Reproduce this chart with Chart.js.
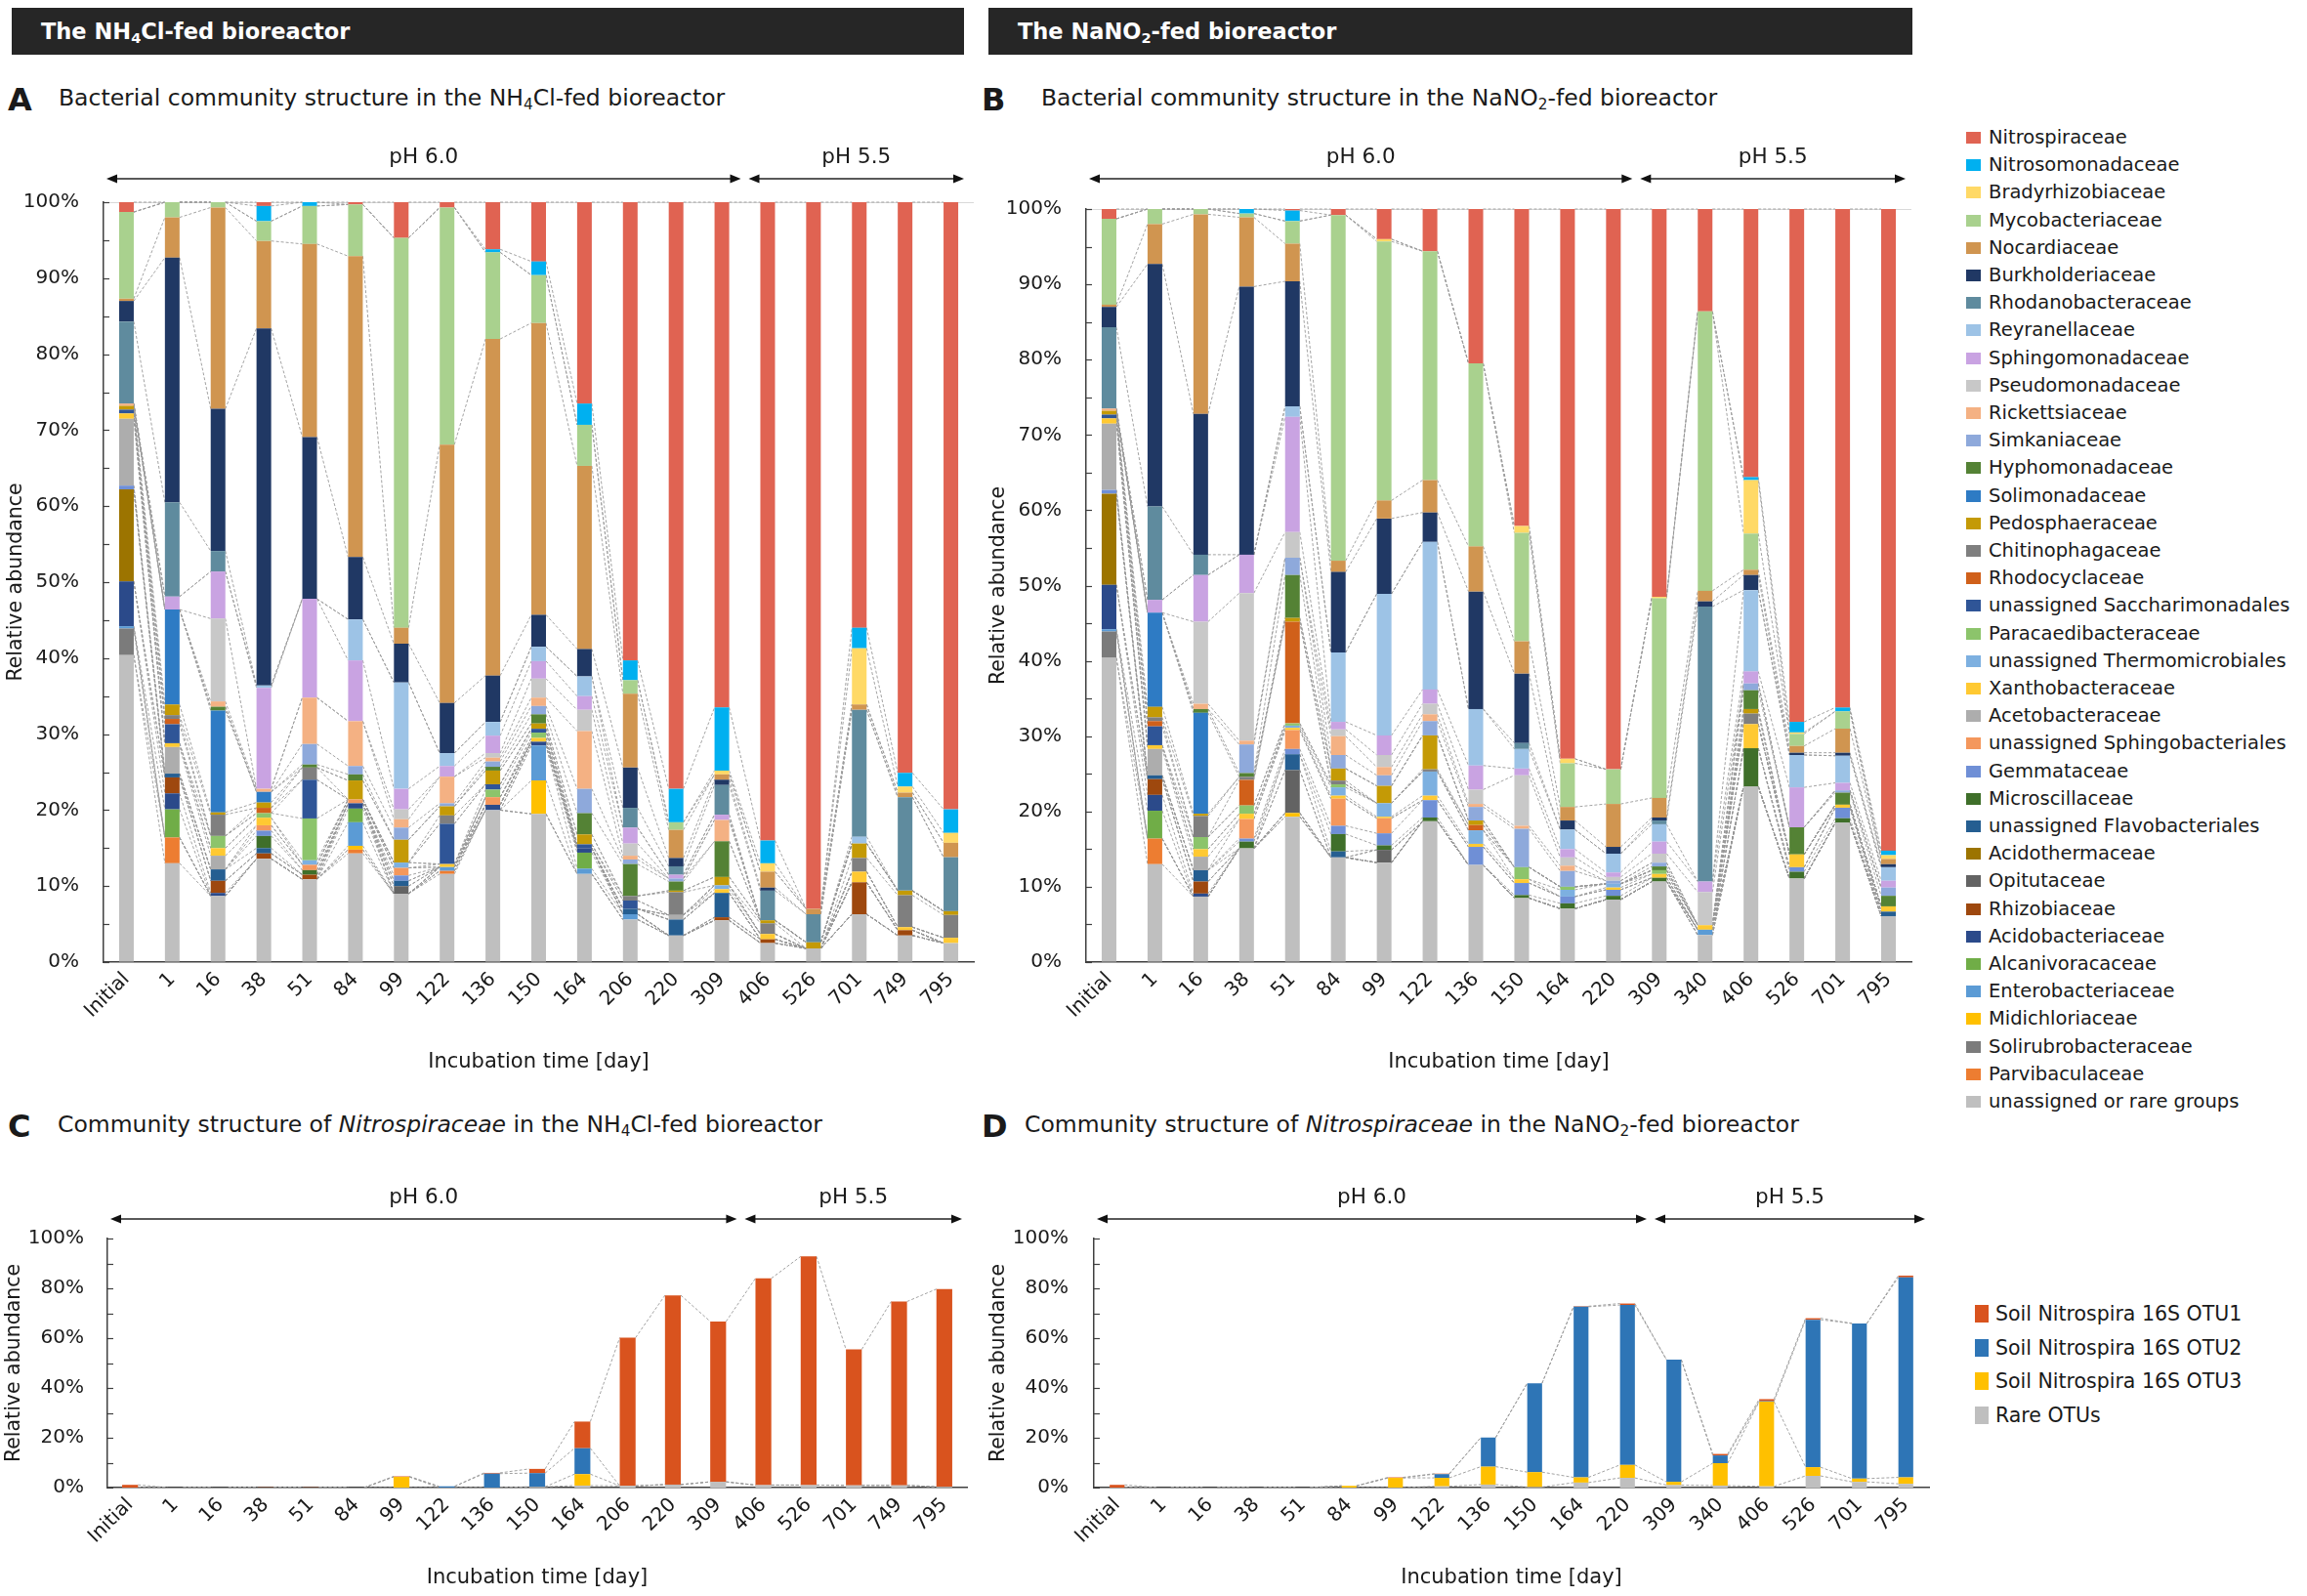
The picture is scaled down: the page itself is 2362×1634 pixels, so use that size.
<!DOCTYPE html>
<html><head><meta charset="utf-8">
<script src="https://cdn.jsdelivr.net/npm/chart.js@4.4.1/dist/chart.umd.min.js"></script>
<style>
body{margin:0;background:#fff;width:2362px;height:1634px;position:relative;overflow:hidden;font-family:"DejaVu Sans",sans-serif;color:#1a1a1a}
.hdr{position:absolute;top:8px;height:48px;background:#262626;color:#fff;font-weight:bold;font-size:22.5px;line-height:48px;padding-left:30px;box-sizing:border-box}
.hdr sub,.ttl sub{font-size:0.65em;vertical-align:-0.25em;line-height:0}
.lab{position:absolute;font-weight:bold;font-size:32px;line-height:1}
.ttl{position:absolute;font-size:23.5px;line-height:1;white-space:nowrap}
canvas{position:absolute}
.leg{position:absolute;font-size:19.5px;white-space:nowrap}
.leg .it{position:absolute;left:0;height:28px;line-height:28px}
.leg .sw{position:absolute;left:0;top:8px;width:15px;height:12px}
.leg .tx{position:absolute;left:23px;top:0}
.leg2{position:absolute;font-size:20.5px;white-space:nowrap}
.leg2 .it{position:absolute;left:0;height:34px;line-height:34px}
.leg2 .sw{position:absolute;left:0;top:8px;width:14px;height:18px}
.leg2 .tx{position:absolute;left:21px;top:0}
</style></head>
<body>
<div class="hdr" style="left:12px;width:975px">The NH<sub>4</sub>Cl-fed bioreactor</div>
<div class="hdr" style="left:1012px;width:946px">The NaNO<sub>2</sub>-fed bioreactor</div>
<div class="lab" style="left:8px;top:86px">A</div>
<div class="ttl" style="left:60px;top:89px">Bacterial community structure in the NH<sub>4</sub>Cl-fed bioreactor</div>
<div class="lab" style="left:1005px;top:86px">B</div>
<div class="ttl" style="left:1066px;top:89px">Bacterial community structure in the NaNO<sub>2</sub>-fed bioreactor</div>
<div class="lab" style="left:8px;top:1137px">C</div>
<div class="ttl" style="left:59px;top:1140px">Community structure of <i>Nitrospiraceae</i> in the NH<sub>4</sub>Cl-fed bioreactor</div>
<div class="lab" style="left:1005px;top:1137px">D</div>
<div class="ttl" style="left:1049px;top:1140px">Community structure of <i>Nitrospiraceae</i> in the NaNO<sub>2</sub>-fed bioreactor</div>
<canvas id="cA" width="1010" height="960" style="left:0;top:140px"></canvas>
<canvas id="cB" width="975" height="960" style="left:1000px;top:140px"></canvas>
<canvas id="cC" width="1010" height="444" style="left:0;top:1190px"></canvas>
<canvas id="cD" width="1000" height="444" style="left:1000px;top:1190px"></canvas>
<div class="leg" id="legAB" style="left:2013px;top:127px"></div>
<div class="leg2" id="legCD" style="left:2022px;top:1328px"></div>
<script>
// ---------- categories ----------
const daysA = ['Initial','1','16','38','51','84','99','122','136','150','164','206','220','309','406','526','701','749','795'];
const daysB = ['Initial','1','16','38','51','84','99','122','136','150','164','220','309','340','406','526','701','795'];

// ---------- families (legend order, top of stack first) ----------
const familyNames = ['Nitrospiraceae','Nitrosomonadaceae','Bradyrhizobiaceae','Mycobacteriaceae','Nocardiaceae','Burkholderiaceae','Rhodanobacteraceae','Reyranellaceae','Sphingomonadaceae','Pseudomonadaceae','Rickettsiaceae','Simkaniaceae','Hyphomonadaceae','Solimonadaceae','Pedosphaeraceae','Chitinophagaceae','Rhodocyclaceae','unassigned Saccharimonadales','Paracaedibacteraceae','unassigned Thermomicrobiales','Xanthobacteraceae','Acetobacteraceae','unassigned Sphingobacteriales','Gemmataceae','Microscillaceae','unassigned Flavobacteriales','Acidothermaceae','Opitutaceae','Rhizobiaceae','Acidobacteriaceae','Alcanivoracaceae','Enterobacteriaceae','Midichloriaceae','Solirubrobacteraceae','Parvibaculaceae','unassigned or rare groups'];
const familyColors = ['#E06352','#00B0F0','#FFD966','#A9D18E','#D09550','#203864','#5F8B9E','#9DC3E6','#C9A3E2','#C8C8C8','#F4B183','#8EA9DB','#548235','#2E7BC4','#C49A06','#7F7F7F','#D0601A','#2F5597','#8CC46B','#7DB0E0','#FFC932','#ADADAD','#F4975C','#6F8FD6','#3F6F2A','#255E91','#9C7400','#636363','#9E480E','#2B4A8A','#70AD47','#5B9BD5','#FFC000','#7B7B7B','#ED7D31','#BFBFBF'];

// ---------- panel A values (% relative abundance) ----------
const A_Nitrospiraceae       = [1.3,0,0,0.5,0,0.3,4.7,0.7,6.2,7.8,26.5,60.3,77.2,66.5,84.0,93.0,56.0,75.1,79.9];
const A_Nitrosomonadaceae    = [0,0,0,2.0,0.5,0,0,0,0.4,1.8,2.8,2.6,4.4,8.3,3.0,0,2.7,1.8,3.1];
const A_Bradyrhizobiaceae    = [0,0,0,0,0,0,0,0,0,0,0,0,0,0.5,1.1,0,7.4,0.8,1.3];
const A_Mycobacteriaceae     = [11.4,2.0,0.7,2.6,5.0,6.8,51.3,31.2,11.4,6.3,5.4,1.8,1.0,0,0,0,0,0,0];
const A_Nocardiaceae         = [0.3,5.3,26.5,11.5,25.4,39.6,2.1,34.0,44.3,38.4,24.1,9.7,3.7,0.7,2.1,0.7,0.7,0.6,1.9];
const A_Burkholderiaceae     = [2.7,32.2,18.7,47.0,21.3,8.2,5.1,6.6,6.1,4.2,3.6,5.3,1.1,0.7,0.4,0,0,0,0];
const A_Rhodanobacteraceae   = [10.8,12.4,2.7,0,0,0,0,0,0,0,0,2.6,1.1,3.9,3.9,3.7,16.7,12.3,7.1];
const A_Reyranellaceae       = [0,0,0,0.3,0,5.4,14.0,1.7,1.8,1.9,2.6,0,0,0,0,0,0.9,0,0];
const A_Sphingomonadaceae    = [0,1.7,6.2,13.3,13.0,8.0,2.7,1.4,2.3,2.3,1.8,2.1,0.5,0.7,0,0,0,0,0];
const A_Pseudomonadaceae     = [0,0,10.9,0,0,0,1.3,0,0.6,2.5,2.8,1.6,0,0,0,0,0,0,0];
const A_Rickettsiaceae       = [0.3,0,0.7,0.4,6.1,5.9,1.1,3.5,0.5,1.1,7.6,0.5,0,2.8,0,0,0,0,0];
const A_Simkaniaceae         = [0,0,0,0,2.7,1.1,1.6,0.4,0.7,1.1,3.2,0.6,0.4,0,0,0,0,0,0];
const A_Hyphomonadaceae      = [0,0,0.5,0,0.4,0.8,0,0,0.5,1.2,2.8,4.2,1.2,4.7,0,0,0,0,0];
const A_Solimonadaceae       = [0,12.5,13.4,1.4,0,0,0,0,0,0,0,0,0,0,0,0,0,0,0];
const A_Pedosphaeraceae      = [0.5,1.4,0.3,0.7,0,2.5,3.0,1.2,1.8,0.7,1.3,0,0.2,1.1,0.4,0.8,1.9,0.6,0.5];
const A_Chitinophagaceae     = [0,0.5,2.8,0,1.6,0,0,1.1,0,0,0,0.6,3.0,0,1.4,0,1.8,4.2,3.0];
const A_Rhodocyclaceae       = [0,0.7,0,0.7,0,0,0,0,0,0,0,0,0,0,0,0,0,0,0];
const A_Saccharimonadales    = [0.5,2.5,0,0,5.1,0,0,5.3,0.7,0.5,0.5,1.1,0,0,0,0,0,0,0];
const A_Paracaedibacteraceae = [0,0,1.6,0.6,5.5,0,0,0,1.0,0.7,0,0,0,0,0,0,0,0,0];
const A_Thermomicrobiales    = [0,0,0,0,0.6,0,0.7,0,0,0,0,0,0,0.5,0,0,0,0,0];
const A_Xanthobacteraceae    = [0.7,0.5,1.0,1.0,0,0,0,0.4,0,0.5,0,0,0,0.5,0.7,0,1.4,0.4,0.7];
const A_Acetobacteraceae     = [8.8,3.5,1.8,0,0,0,0,0,0,0,0,0,0.6,0,0,0,0,0,0];
const A_Sphingobacteriales   = [0,0,0,0.7,0.7,0.5,1.0,0,1.0,0,0,0,0,0,0,0,0,0,0];
const A_Gemmataceae          = [0.5,0,0,0.7,0,0,0.7,0,0,0,0,0,0,0,0,0,0,0,0];
const A_Microscillaceae      = [0,0,0,1.6,0.6,0,0,0,0,0,0,0,0,0,0,0,0,0,0];
const A_Flavobacteriales     = [0,0.5,1.5,0.7,0,0,0.7,0,0,0,0,0.7,2.1,3.2,0,0,0,0,0];
const A_Acidothermaceae      = [12.1,0,0,0,0,0,0,0,0,0,0,0,0,0,0,0,0,0,0];
const A_Opitutaceae          = [0,0,0,0,0,0,1.0,0,0,0,0,0,0,0,0,0,0,0,0];
const A_Rhizobiaceae         = [0,2.1,1.6,0.7,0.6,0,0,0,0,0,0,0,0,0.4,0.5,0,4.2,0.7,0];
const A_Acidobacteriaceae    = [5.9,2.1,0.4,0,0,0.7,0,0,0.7,0.5,0.6,0,0,0,0,0,0,0,0];
const A_Alcanivoracaceae     = [0,3.7,0,0,0,1.8,0,0,0,0,2.1,0,0,0,0,0,0,0,0];
const A_Enterobacteriaceae   = [0.3,0,0,0,0,3.1,0,0.5,0,4.6,0.7,0.7,0,0,0,0,0,0,0];
const A_Midichloriaceae      = [0,0,0,0,0,0.5,0,0,0,4.4,0,0,0,0,0,0,0,0,0];
const A_Solirubrobacteraceae = [3.5,0,0,0,0,0,0,0,0,0,0,0,0,0,0,0,0,0,0];
const A_Parvibaculaceae      = [0,3.4,0,0,0,0.5,0,0.4,0,0,0,0,0,0,0,0,0,0,0];
const A_Rare                 = [40.4,13.0,8.7,13.6,10.9,14.3,9.0,11.6,20.0,19.5,11.6,5.6,3.5,5.5,2.5,1.8,6.3,3.5,2.5];

// ---------- panel B values (% relative abundance) ----------
const B_Nitrospiraceae       = [1.3,0,0,0,0.2,0.8,4.0,5.6,20.5,42.1,73.0,74.4,51.5,13.6,35.6,68.1,66.2,85.2];
const B_Nitrosomonadaceae    = [0,0,0,0.6,1.4,0,0,0,0,0,0,0,0,0,0.4,1.4,0.5,0.6];
const B_Bradyrhizobiaceae    = [0,0,0,0,0,0,0.3,0,0,0.9,0.6,0,0.2,0,7.1,0.2,0,0.5];
const B_Mycobacteriaceae     = [11.4,2.0,0.7,0.5,3.0,45.9,34.4,30.4,24.3,14.4,5.8,4.6,26.5,37.1,4.8,1.6,2.3,0];
const B_Nocardiaceae         = [0.3,5.3,26.5,9.2,5.0,1.5,2.4,4.3,6.0,4.3,1.8,5.7,2.6,1.4,0.7,0.9,3.2,0.7];
const B_Burkholderiaceae     = [2.7,32.2,18.7,35.6,16.6,10.7,10.0,3.9,15.6,9.2,1.2,0.9,0.4,0.7,2.0,0.3,0.4,0.4];
const B_Rhodanobacteraceae   = [10.8,12.4,2.7,0,0,0,0,0,0,0.8,0,0,0.5,36.5,0,0,0,0];
const B_Reyranellaceae       = [0,0,0,0,1.4,9.2,18.8,19.6,7.5,2.6,2.6,2.5,2.3,0,10.8,4.3,3.6,1.8];
const B_Sphingomonadaceae    = [0,1.7,6.2,5.1,15.3,1.0,2.6,1.9,3.2,0.9,1.1,0.6,1.6,1.4,1.6,5.3,1.0,0.9];
const B_Pseudomonadaceae     = [0,0,10.9,19.6,3.4,0.9,1.6,1.4,1.9,6.7,1.1,0.5,1.2,4.4,0,0,0,0];
const B_Rickettsiaceae       = [0.3,0,0.7,0.5,0,2.5,1.1,0.9,0.4,0.4,0.7,0,0,0,0,0,0,0];
const B_Simkaniaceae         = [0,0,0,3.8,2.3,1.8,1.4,1.9,1.8,5.1,2.1,0.4,0.5,0,0.9,0,0.3,1.1];
const B_Hyphomonadaceae      = [0,0,0.5,0.5,5.7,0,0,0,0,0,0,0,0.5,0,2.5,3.6,1.6,1.4];
const B_Solimonadaceae       = [0,12.5,13.4,0,0,0,0,0,0,0,0,0,0,0,0,0,0,0];
const B_Pedosphaeraceae      = [0.5,1.4,0.3,0,0.5,1.6,2.3,4.5,0.6,0,0,0,0,0,0.6,0,0,0];
const B_Chitinophagaceae     = [0,0.5,2.8,0.4,0,0.5,0,0.3,0,0,0,0,0,0,1.4,0,0,0];
const B_Rhodocyclaceae       = [0,0.7,0,3.4,13.5,0,0,0,0.7,0,0,0,0,0,0,0,0,0];
const B_Saccharimonadales    = [0.5,2.5,0,0,0,0,0,0,0,0,0,0,0,0,0,0,0,0];
const B_Paracaedibacteraceae = [0,0,1.6,1.1,0.3,0.4,0,0,0,1.6,0.4,0,0.5,0,0,0,0,0];
const B_Thermomicrobiales    = [0,0,0,0,0.3,1.1,1.8,3.2,1.8,0,0.9,0.5,0,0,0,0,0,0];
const B_Xanthobacteraceae    = [0.7,0.5,1.0,0.7,0.3,0.4,0.2,0.6,0.4,0.5,0,0.3,0.5,0.6,3.2,1.7,0.4,0.7];
const B_Acetobacteraceae     = [8.8,3.5,1.8,0,0,0,0,0,0,0,0,0,0,0,0,0,0,0];
const B_Sphingobacteriales   = [0,0,0,2.6,2.5,3.6,2.0,0,0,0,0,0,0,0,0,0,0,0];
const B_Gemmataceae          = [0.5,0,0,0.4,0.7,1.1,1.6,2.3,2.4,1.6,0.9,0.8,0,0,0,0.6,1.4,0];
const B_Microscillaceae      = [0,0,0,0.9,0,2.3,0.6,0.5,0,0.4,0.7,0.5,0.5,0,5.1,0.9,0.6,0];
const B_Flavobacteriales     = [0,0.5,1.5,0,2.1,0.8,0,0,0,0,0,0,0,0,0,0,0,0.6];
const B_Acidothermaceae      = [12.1,0,0,0,0,0,0,0,0,0,0,0,0,0,0,0,0,0];
const B_Opitutaceae          = [0,0,0,0,5.7,0,1.7,0,0,0,0,0,0,0,0,0,0,0];
const B_Rhizobiaceae         = [0,2.1,1.6,0,0,0,0,0,0,0,0,0,0,0,0,0,0,0];
const B_Acidobacteriaceae    = [5.9,2.1,0.4,0,0,0,0,0,0,0,0,0,0,0,0,0,0,0];
const B_Alcanivoracaceae     = [0,3.7,0,0,0,0,0,0,0,0,0,0,0,0,0,0,0,0];
const B_Enterobacteriaceae   = [0.3,0,0,0,0,0,0,0,0,0,0,0,0,0.7,0,0,0,0];
const B_Midichloriaceae      = [0,0,0,0,0.5,0,0,0,0,0,0,0,0,0,0,0,0,0];
const B_Solirubrobacteraceae = [3.5,0,0,0,0,0,0,0,0,0,0,0,0,0,0,0,0,0];
const B_Parvibaculaceae      = [0,3.4,0,0,0,0,0,0,0,0,0,0,0,0,0,0,0,0];
const B_Rare                 = [40.4,13.0,8.7,15.1,19.3,13.9,13.2,18.7,12.9,8.5,7.1,8.3,10.7,3.6,23.3,11.1,18.5,6.1];

// ---------- Nitrospiraceae OTUs (panels C and D) ----------
const otuNames  = ['Soil Nitrospira 16S OTU1','Soil Nitrospira 16S OTU2','Soil Nitrospira 16S OTU3','Rare OTUs'];
const otuColors = ['#D9531E','#2E75B6','#FFC000','#BFBFBF'];
const C_OTU1 = [1.1,0,0,0.1,0.1,0,0.2,0,0.3,1.7,10.7,59.5,76.0,64.4,83.0,91.8,54.6,73.8,79.4];
const C_OTU2 = [0,0,0,0,0,0,0,0.5,5.6,5.5,10.4,0,0,0,0,0,0,0,0];
const C_OTU3 = [0,0,0,0,0,0,4.3,0,0,0,4.6,0,0,0,0,0,0,0,0];
const C_Rare = [0,0,0,0,0,0,0,0,0,0.3,0.8,0.7,1.2,2.3,1.0,1.0,0.9,0.9,0.3];
const D_OTU1 = [1.1,0,0,0,0,0,0.2,0.2,0,0,0.2,0.6,0,0.6,0.8,0.6,0,0.7];
const D_OTU2 = [0,0,0,0,0,0,0,1.5,11.7,35.7,68.5,64.2,49.1,3.1,0.2,59.2,62.3,80.3];
const D_OTU3 = [0,0,0,0,0,0.7,3.9,3.4,7.2,6.0,2.1,5.2,1.3,9.0,34.0,3.5,1.3,2.6];
const D_Rare = [0,0,0,0,0,0,0,0.5,1.2,0.2,2.0,3.9,1.0,0.8,0.5,4.7,2.3,1.5];

// ---------- pH period labels ----------
const phLabels = ['pH 6.0','pH 5.5'];

const seriesA = [A_Nitrospiraceae,A_Nitrosomonadaceae,A_Bradyrhizobiaceae,A_Mycobacteriaceae,A_Nocardiaceae,A_Burkholderiaceae,A_Rhodanobacteraceae,A_Reyranellaceae,A_Sphingomonadaceae,A_Pseudomonadaceae,A_Rickettsiaceae,A_Simkaniaceae,A_Hyphomonadaceae,A_Solimonadaceae,A_Pedosphaeraceae,A_Chitinophagaceae,A_Rhodocyclaceae,A_Saccharimonadales,A_Paracaedibacteraceae,A_Thermomicrobiales,A_Xanthobacteraceae,A_Acetobacteraceae,A_Sphingobacteriales,A_Gemmataceae,A_Microscillaceae,A_Flavobacteriales,A_Acidothermaceae,A_Opitutaceae,A_Rhizobiaceae,A_Acidobacteriaceae,A_Alcanivoracaceae,A_Enterobacteriaceae,A_Midichloriaceae,A_Solirubrobacteraceae,A_Parvibaculaceae,A_Rare];
const seriesB = [B_Nitrospiraceae,B_Nitrosomonadaceae,B_Bradyrhizobiaceae,B_Mycobacteriaceae,B_Nocardiaceae,B_Burkholderiaceae,B_Rhodanobacteraceae,B_Reyranellaceae,B_Sphingomonadaceae,B_Pseudomonadaceae,B_Rickettsiaceae,B_Simkaniaceae,B_Hyphomonadaceae,B_Solimonadaceae,B_Pedosphaeraceae,B_Chitinophagaceae,B_Rhodocyclaceae,B_Saccharimonadales,B_Paracaedibacteraceae,B_Thermomicrobiales,B_Xanthobacteraceae,B_Acetobacteraceae,B_Sphingobacteriales,B_Gemmataceae,B_Microscillaceae,B_Flavobacteriales,B_Acidothermaceae,B_Opitutaceae,B_Rhizobiaceae,B_Acidobacteriaceae,B_Alcanivoracaceae,B_Enterobacteriaceae,B_Midichloriaceae,B_Solirubrobacteraceae,B_Parvibaculaceae,B_Rare];
const seriesC = [C_OTU1,C_OTU2,C_OTU3,C_Rare];
const seriesD = [D_OTU1,D_OTU2,D_OTU3,D_Rare];

Chart.defaults.font.family = "'DejaVu Sans', sans-serif";
Chart.defaults.color = '#1a1a1a';

const overlay = {
  id: 'overlay',
  beforeDatasetsDraw(chart, args, o) {
    const ctx = chart.ctx;
    ctx.save();
    ctx.strokeStyle = '#999999';
    ctx.lineWidth = 0.9;
    ctx.setLineDash([3, 2]);
    chart.data.datasets.forEach((ds, di) => {
      const meta = chart.getDatasetMeta(di);
      ctx.beginPath();
      for (let i = 0; i < meta.data.length - 1; i++) {
        const a = meta.data[i], b = meta.data[i + 1];
        ctx.moveTo(a.x + a.width / 2, a.y);
        ctx.lineTo(b.x - b.width / 2, b.y);
      }
      ctx.stroke();
    });
    ctx.restore();
  },
  afterDraw(chart, args, o) {
    const ctx = chart.ctx, ca = chart.chartArea, y = chart.scales.y, x = chart.scales.x;
    ctx.save();
    // inner tick marks on the value axis
    ctx.strokeStyle = '#404040';
    ctx.lineWidth = 1.2;
    for (let v = 0; v <= 100; v += o.minorStep) {
      const py = Math.round(y.getPixelForValue(v)) + 0.5;
      ctx.beginPath(); ctx.moveTo(ca.left, py); ctx.lineTo(ca.left + 6, py); ctx.stroke();
    }
    // pH period arrows
    const xm = (x.getPixelForValue(o.split - 1) + x.getPixelForValue(o.split)) / 2;
    const segs = [[ca.left + 3, xm - 4], [xm + 4, ca.right - o.rEnd]];
    ctx.strokeStyle = '#222'; ctx.fillStyle = '#111'; ctx.lineWidth = 1.4;
    segs.forEach((s, k) => {
      const yy = o.arrowY;
      ctx.beginPath(); ctx.moveTo(s[0] + 6, yy); ctx.lineTo(s[1] - 6, yy); ctx.stroke();
      ctx.beginPath(); ctx.moveTo(s[0], yy); ctx.lineTo(s[0] + 11, yy - 4.5); ctx.lineTo(s[0] + 11, yy + 4.5); ctx.closePath(); ctx.fill();
      ctx.beginPath(); ctx.moveTo(s[1], yy); ctx.lineTo(s[1] - 11, yy - 4.5); ctx.lineTo(s[1] - 11, yy + 4.5); ctx.closePath(); ctx.fill();
      ctx.font = "21.5px 'DejaVu Sans', sans-serif";
      ctx.textAlign = 'center'; ctx.textBaseline = 'middle';
      ctx.fillStyle = '#1a1a1a';
      ctx.fillText(phLabels[k], (s[0] + s[1]) / 2, o.textY);
      ctx.fillStyle = '#111';
    });
    ctx.restore();
  }
};

function makeChart(id, labels, series, names, colors, cfg) {
  const datasets = series.map((data, i) => ({
    label: names[i], data, backgroundColor: colors[i], borderWidth: 0,
    barPercentage: cfg.barPct, categoryPercentage: 1
  })).reverse();
  return new Chart(document.getElementById(id), {
    type: 'bar',
    data: { labels, datasets },
    options: {
      responsive: false, animation: false, devicePixelRatio: 1,
      layout: { padding: { left: 0, right: cfg.padR, top: cfg.padT, bottom: 0 } },
      plugins: {
        legend: { display: false }, tooltip: { enabled: false },
        overlay: { split: cfg.split, arrowY: cfg.arrowY, textY: cfg.textY, minorStep: cfg.minorStep, rEnd: cfg.rEnd }
      },
      scales: {
        x: {
          stacked: true,
          grid: { display: false, drawTicks: false },
          border: { display: true, color: '#404040', width: 1.5 },
          ticks: { autoSkip: false, maxRotation: 45, minRotation: 45, padding: 6, font: { size: 20 } },
          title: { display: true, text: 'Incubation time [day]', font: { size: 21 }, padding: { top: 0, bottom: cfg.xTitlePad } },
          afterFit: s => { s.height = cfg.xH; }
        },
        y: {
          stacked: true, min: 0, max: 100,
          ticks: { stepSize: cfg.step, callback: v => v + '%', padding: cfg.yTickPad, font: { size: 20 } },
          grid: { display: cfg.topGrid, drawTicks: false, color: c => (c.tick && c.tick.value === 100) ? '#d9d9d9' : 'rgba(0,0,0,0)' },
          border: { display: true, color: '#404040', width: 1.5 },
          title: { display: true, text: 'Relative abundance', font: { size: 20.5 }, padding: { top: cfg.yTitlePad, bottom: 0 } },
          afterFit: s => { s.width = cfg.yW; }
        }
      }
    },
    plugins: [overlay]
  });
}

makeChart('cA', daysA, seriesA, familyNames, familyColors,
  { barPct: 0.32, padR: 13, padT: 67, xH: 115, yW: 106, step: 10, minorStep: 5, yTickPad: 25, topGrid: true,
    xTitlePad: 0, yTitlePad: 4, split: 14, arrowY: 43, textY: 21, rEnd: 10 });
makeChart('cB', daysB, seriesB, familyNames, familyColors,
  { barPct: 0.32, padR: 18, padT: 74, xH: 115, yW: 112, step: 10, minorStep: 5, yTickPad: 25, topGrid: true,
    xTitlePad: 0, yTitlePad: 10, split: 12, arrowY: 43, textY: 21, rEnd: 6 });
makeChart('cC', daysA, seriesC, otuNames, otuColors,
  { barPct: 0.35, padR: 20, padT: 78, xH: 111, yW: 110, step: 20, minorStep: 10, yTickPad: 24, topGrid: false,
    xTitlePad: 6, yTitlePad: 2, split: 14, arrowY: 58, textY: 36, rEnd: 5 });
makeChart('cD', daysB, seriesD, otuNames, otuColors,
  { barPct: 0.32, padR: 25, padT: 78, xH: 111, yW: 120, step: 20, minorStep: 10, yTickPad: 26, topGrid: false,
    xTitlePad: 6, yTitlePad: 10, split: 12, arrowY: 58, textY: 36, rEnd: 4 });

// ---------- legends ----------
function buildLegend(el, names, colors, step) {
  names.forEach((n, i) => {
    const it = document.createElement('div');
    it.className = 'it';
    it.style.top = (i * step) + 'px';
    it.innerHTML = '<span class="sw" style="background:' + colors[i] + '"></span><span class="tx"></span>';
    it.querySelector('.tx').textContent = n;
    el.appendChild(it);
  });
}
buildLegend(document.getElementById('legAB'), familyNames, familyColors, 28.2);
buildLegend(document.getElementById('legCD'), otuNames, otuColors, 34.5);
</script>
</body></html>
